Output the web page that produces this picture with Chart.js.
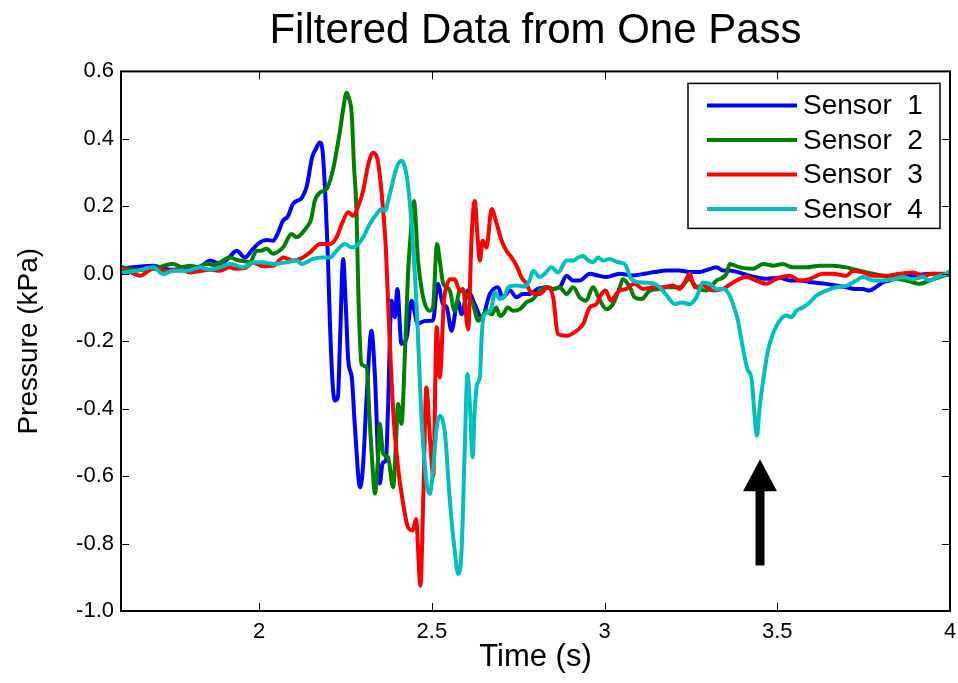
<!DOCTYPE html>
<html>
<head>
<meta charset="utf-8">
<title>Filtered Data from One Pass</title>
<script src="https://cdn.jsdelivr.net/npm/chart.js@4.4.1/dist/chart.umd.min.js"></script>
<style>
  html, body { margin: 0; padding: 0; background: #fff; }
  canvas { display: block; }
</style>
</head>
<body>
<canvas id="chart" width="958" height="683"></canvas>
<script>
// 目盛り
const xTicks = [2, 2.5, 3, 3.5, 4];
const yTicks = [0.6, 0.4, 0.2, 0.0, -0.2, -0.4, -0.6, -0.8, -1.0];

const sensorLabels = ['Sensor  1', 'Sensor  2', 'Sensor  3', 'Sensor  4'];
const sensorColors = ['#0000ff', '#008000', '#ff0000', '#00bfbf'];

// Sensor 1 (s, kPa)
const s1Time = [
  1.600, 1.641, 1.693, 1.742, 1.788, 1.829, 1.858, 1.886, 1.910, 1.935,
  1.959, 1.979, 2.002, 2.022, 2.040, 2.054, 2.069, 2.083, 2.098, 2.124,
  2.138, 2.153, 2.164, 2.176, 2.184, 2.193, 2.199, 2.205, 2.213, 2.219,
  2.228, 2.234, 2.243, 2.251, 2.258, 2.268, 2.277, 2.292, 2.300, 2.312,
  2.325, 2.335, 2.349, 2.358, 2.367, 2.373, 2.383, 2.393, 2.400, 2.412,
  2.427, 2.441, 2.459, 2.480, 2.503, 2.517, 2.532, 2.543, 2.557, 2.575,
  2.586, 2.604, 2.624, 2.644, 2.668, 2.691, 2.705, 2.726, 2.745, 2.763,
  2.783, 2.807, 2.832, 2.850, 2.870, 2.890, 2.908, 2.928, 2.957, 2.980,
  3.005, 3.044, 3.081, 3.116, 3.145, 3.179, 3.217, 3.246, 3.275, 3.298,
  3.324, 3.342, 3.362, 3.400, 3.435, 3.468, 3.507, 3.536, 3.565, 3.599,
  3.642, 3.669, 3.700, 3.724, 3.747, 3.767, 3.785, 3.805, 3.825, 3.854, 3.897, 3.950, 4.000
];
const s1Pressure = [
  0.015, 0.02, 0.024, 0.012, 0.015, 0.02, 0.039, 0.03, 0.045, 0.068,
  0.048, 0.07, 0.093, 0.10, 0.098, 0.12, 0.157, 0.17, 0.207, 0.226,
  0.26, 0.344, 0.37, 0.389, 0.36, 0.2, 0.05, -0.15, -0.33, -0.376,
  -0.365, -0.2, 0.044, -0.1, -0.258, -0.307, -0.45, -0.633, -0.58, -0.35,
  -0.169, -0.3, -0.622, -0.56, -0.554, -0.4, -0.08, -0.129, -0.045, -0.208,
  -0.19, -0.08, -0.148, -0.14, -0.139, -0.03, -0.09, -0.1, -0.169, -0.08,
  -0.12, -0.05, -0.09, -0.13, -0.06, -0.04, -0.07, -0.05, -0.07, -0.06,
  -0.06, -0.045, -0.04, -0.045, -0.04, -0.006, -0.02, -0.02, 0.0, -0.005,
  -0.01, 0.0, -0.005, 0.0, 0.005, 0.01, 0.01, 0.005, 0.005, 0.012,
  0.019, 0.01, 0.01, 0.0, -0.01, -0.015, -0.012, -0.02, -0.02, -0.025,
  -0.03, -0.035, -0.04, -0.045, -0.045, -0.05, -0.04, -0.026, -0.02, -0.01, -0.005, 0.0, -0.003
];

// Sensor 2
const s2Time = [
  1.600, 1.646, 1.684, 1.713, 1.750, 1.774, 1.800, 1.823, 1.848, 1.869,
  1.886, 1.915, 1.939, 1.954, 1.973, 1.993, 2.002, 2.022, 2.040, 2.054,
  2.069, 2.094, 2.108, 2.137, 2.150, 2.161, 2.176, 2.195, 2.213, 2.234,
  2.245, 2.253, 2.260, 2.268, 2.274, 2.282, 2.287, 2.296, 2.311, 2.320,
  2.328, 2.335, 2.344, 2.349, 2.359, 2.373, 2.388, 2.396, 2.402, 2.412,
  2.422, 2.431, 2.439, 2.448, 2.460, 2.471, 2.480, 2.494, 2.503, 2.515,
  2.523, 2.533, 2.543, 2.552, 2.566, 2.581, 2.600, 2.619, 2.634, 2.647,
  2.658, 2.673, 2.687, 2.697, 2.706, 2.720, 2.735, 2.755, 2.774, 2.793,
  2.812, 2.832, 2.851, 2.870, 2.890, 2.909, 2.928, 2.947, 2.966, 2.986,
  3.005, 3.024, 3.044, 3.053, 3.073, 3.087, 3.107, 3.131, 3.160, 3.179,
  3.217, 3.246, 3.266, 3.295, 3.324, 3.353, 3.362, 3.391, 3.430, 3.459,
  3.488, 3.516, 3.544, 3.584, 3.623, 3.660, 3.700, 3.738, 3.777, 3.825,
  3.873, 3.912, 3.941, 3.970, 4.000
];
const s2Pressure = [
  0.02, 0.01, 0.015, 0.02, 0.03, 0.02, 0.024, 0.02, 0.03, 0.025,
  0.033, 0.048, 0.04, 0.038, 0.034, 0.068, 0.068, 0.074, 0.059, 0.065,
  0.078, 0.118, 0.108, 0.137, 0.16, 0.216, 0.241, 0.251, 0.305, 0.424,
  0.5, 0.537, 0.52, 0.473, 0.33, 0.178, -0.05, -0.268, -0.277, -0.436,
  -0.57, -0.652, -0.55, -0.445, -0.534, -0.544, -0.633, -0.5, -0.386, -0.445,
  -0.238, 0.0, 0.12, 0.216, 0.038, -0.05, -0.09, -0.11, -0.1, 0.088,
  0.038, -0.03, -0.04, -0.05, -0.11, -0.05, -0.06, -0.09, -0.139, -0.125,
  -0.11, -0.12, -0.1, -0.125, -0.12, -0.1, -0.11, -0.105, -0.085, -0.075,
  -0.05, -0.04, -0.045, -0.04, -0.06, -0.04, -0.07, -0.08, -0.04, -0.078,
  -0.105, -0.09, -0.04, -0.016, -0.04, -0.07, -0.075, -0.05, -0.045, -0.04,
  -0.04, -0.016, -0.04, -0.05, -0.02, 0.0, 0.029, 0.019, 0.015, 0.029,
  0.024, 0.029, 0.019, 0.019, 0.024, 0.024, 0.019, 0.009, 0.0, -0.01,
  -0.02, -0.03, -0.02, -0.01, 0.0
];

// Sensor 3
const s3Time = [
  1.600, 1.626, 1.655, 1.693, 1.719, 1.742, 1.771, 1.800, 1.829, 1.858,
  1.886, 1.915, 1.930, 1.959, 1.983, 2.011, 2.041, 2.070, 2.099, 2.127,
  2.152, 2.176, 2.205, 2.224, 2.239, 2.258, 2.272, 2.287, 2.301, 2.316,
  2.330, 2.345, 2.359, 2.367, 2.373, 2.388, 2.402, 2.417, 2.431, 2.445,
  2.454, 2.467, 2.475, 2.484, 2.494, 2.504, 2.514, 2.523, 2.535, 2.542,
  2.552, 2.566, 2.581, 2.590, 2.605, 2.615, 2.624, 2.633, 2.639, 2.647,
  2.658, 2.673, 2.687, 2.702, 2.716, 2.731, 2.745, 2.759, 2.774, 2.783,
  2.803, 2.812, 2.836, 2.851, 2.865, 2.890, 2.919, 2.938, 2.957, 2.976,
  2.991, 3.003, 3.018, 3.034, 3.044, 3.063, 3.087, 3.111, 3.140, 3.169,
  3.198, 3.217, 3.235, 3.246, 3.261, 3.285, 3.314, 3.343, 3.372, 3.410,
  3.439, 3.468, 3.497, 3.536, 3.565, 3.594, 3.632, 3.661, 3.700, 3.719,
  3.748, 3.777, 3.816, 3.854, 3.893, 3.922, 3.951, 4.000
];
const s3Pressure = [
  0.015, 0.005, -0.006, 0.015, 0.01, 0.009, 0.012, 0.004, 0.008, 0.012,
  0.009, 0.019, 0.015, 0.017, 0.033, 0.022, 0.024, 0.048, 0.039, 0.048,
  0.068, 0.088, 0.088, 0.108, 0.147, 0.182, 0.172, 0.201, 0.246, 0.325,
  0.359, 0.325, 0.187, 0.07, -0.08, -0.406, -0.574, -0.682, -0.752, -0.761,
  -0.727, -0.925, -0.67, -0.337, -0.48, -0.6, -0.159, -0.307, -0.08, -0.04,
  -0.016, -0.016, -0.05, -0.045, -0.165, 0.108, 0.216, 0.1, 0.039, 0.098,
  0.078, 0.192, 0.15, 0.098, 0.068, 0.048, 0.024, -0.01, -0.03, -0.05,
  -0.06, -0.06, -0.04, -0.07, -0.179, -0.184, -0.169, -0.149, -0.1, -0.09,
  -0.06, -0.05, -0.08, -0.06, -0.05, -0.045, -0.03, -0.045, -0.04, -0.04,
  -0.035, -0.045, -0.02, 0.0, -0.04, -0.035, -0.05, -0.045, -0.026, -0.01,
  -0.02, -0.03, -0.015, -0.006, -0.02, -0.015, 0.0, 0.0, -0.006, 0.009,
  0.004, -0.006, -0.006, 0.0, 0.004, -0.006, 0.0, 0.0
];

// Sensor 4
const s4Time = [
  1.600, 1.646, 1.693, 1.722, 1.751, 1.790, 1.829, 1.858, 1.886, 1.915,
  1.935, 1.954, 1.983, 2.012, 2.041, 2.079, 2.108, 2.123, 2.156, 2.185,
  2.205, 2.224, 2.248, 2.268, 2.287, 2.301, 2.320, 2.340, 2.354, 2.364,
  2.378, 2.398, 2.412, 2.427, 2.441, 2.456, 2.470, 2.485, 2.494, 2.504,
  2.514, 2.523, 2.538, 2.552, 2.566, 2.576, 2.586, 2.595, 2.603, 2.610,
  2.618, 2.624, 2.631, 2.639, 2.644, 2.650, 2.663, 2.673, 2.682, 2.697,
  2.711, 2.721, 2.745, 2.769, 2.783, 2.793, 2.812, 2.827, 2.846, 2.865,
  2.890, 2.909, 2.923, 2.938, 2.947, 2.967, 2.981, 2.996, 3.015, 3.039,
  3.058, 3.078, 3.111, 3.140, 3.160, 3.184, 3.203, 3.222, 3.246, 3.266,
  3.285, 3.304, 3.324, 3.343, 3.357, 3.372, 3.386, 3.400, 3.415, 3.425,
  3.434, 3.441, 3.449, 3.459, 3.473, 3.487, 3.507, 3.526, 3.541, 3.555,
  3.574, 3.594, 3.613, 3.642, 3.671, 3.700, 3.729, 3.748, 3.777, 3.806,
  3.835, 3.864, 3.893, 3.922, 3.941, 3.960, 3.989, 4.000
];
const s4Pressure = [
  0.004, 0.009, 0.019, -0.001, 0.009, 0.009, 0.019, 0.012, 0.019, 0.029,
  0.024, 0.019, 0.034, 0.034, 0.029, 0.034, 0.039, 0.029, 0.044, 0.048,
  0.048, 0.068, 0.088, 0.078, 0.088, 0.108, 0.147, 0.177, 0.192, 0.187,
  0.236, 0.315, 0.335, 0.29, 0.15, -0.1, -0.426, -0.623, -0.653, -0.574,
  -0.455, -0.421, -0.475, -0.672, -0.821, -0.89, -0.82, -0.524, -0.297, -0.386,
  -0.544, -0.406, -0.327, -0.307, -0.189, -0.125, -0.115, -0.1, -0.055, -0.075,
  -0.065, -0.04, -0.035, -0.038, -0.02, 0.009, -0.01, 0.0, 0.019, 0.004,
  0.039, 0.039, 0.048, 0.053, 0.044, 0.034, 0.048, 0.039, 0.044, 0.034,
  0.029, -0.016, -0.026, -0.028, -0.04, -0.07, -0.09, -0.085, -0.09, -0.07,
  -0.026, -0.03, -0.045, -0.045, -0.055, -0.09, -0.139, -0.218, -0.287, -0.307,
  -0.416, -0.48, -0.396, -0.317, -0.228, -0.179, -0.139, -0.124, -0.129, -0.11,
  -0.1, -0.085, -0.065, -0.05, -0.04, -0.036, -0.02, -0.01, -0.02, -0.02,
  -0.016, -0.01, -0.016, -0.01, -0.02, -0.01, 0.0, 0.009
];

// 矢印 (Sensor 4 の谷を指す)
const arrowTime = 3.45;
const arrowTip = -0.55;
const arrowHeadBase = -0.645;
const arrowTail = -0.865;

const FONT = "'Liberation Sans', Arial, Helvetica, sans-serif";
Chart.defaults.font.family = FONT;
Chart.defaults.color = '#000';

function toPoints(times, values) {
  return times.map((t, i) => ({ x: t, y: values[i] }));
}

const seriesTimes = [s1Time, s2Time, s3Time, s4Time];
const seriesValues = [s1Pressure, s2Pressure, s3Pressure, s4Pressure];

const datasets = sensorLabels.map((label, i) => ({
  label: label,
  data: toPoints(seriesTimes[i], seriesValues[i]),
  borderColor: sensorColors[i],
  backgroundColor: sensorColors[i],
  borderWidth: 4,
  pointRadius: 0,
  cubicInterpolationMode: 'monotone',
  borderJoinStyle: 'round',
  borderCapStyle: 'round',
  // Sensor 4 を一番上に描く
  order: sensorLabels.length - i
}));

// 枠・内向き目盛り・矢印・凡例
const matlabFrame = {
  id: 'matlabFrame',
  afterDatasetsDraw(chart) {
    const { ctx, chartArea: a, scales: { x, y } } = chart;
    ctx.save();

    // 内向きの目盛り (4辺)
    ctx.strokeStyle = '#000';
    ctx.lineWidth = 1;
    ctx.beginPath();
    xTicks.forEach(v => {
      const px = Math.round(x.getPixelForValue(v)) + 0.5;
      ctx.moveTo(px, a.bottom); ctx.lineTo(px, a.bottom - 8);
      ctx.moveTo(px, a.top); ctx.lineTo(px, a.top + 8);
    });
    yTicks.forEach(v => {
      const py = Math.round(y.getPixelForValue(v)) + 0.5;
      ctx.moveTo(a.left, py); ctx.lineTo(a.left + 8, py);
      ctx.moveTo(a.right, py); ctx.lineTo(a.right - 8, py);
    });
    ctx.stroke();

    ctx.lineWidth = 2;
    ctx.strokeRect(a.left, a.top, a.right - a.left, a.bottom - a.top);

    // 矢印
    const ax = x.getPixelForValue(arrowTime);
    const yTip = y.getPixelForValue(arrowTip);
    const yBase = y.getPixelForValue(arrowHeadBase);
    const yTail = y.getPixelForValue(arrowTail);
    ctx.fillStyle = '#000';
    ctx.fillRect(ax - 4.5, yBase - 1, 9, yTail - yBase + 1);
    ctx.beginPath();
    ctx.moveTo(ax, yTip);
    ctx.lineTo(ax + 17, yBase);
    ctx.lineTo(ax - 17, yBase);
    ctx.closePath();
    ctx.fill();

    // 凡例
    const boxW = 252, boxH = 145;
    const bx = a.right - 10 - boxW;
    const by = a.top + 12;
    ctx.fillStyle = '#fff';
    ctx.fillRect(bx, by, boxW, boxH);
    ctx.lineWidth = 1.5;
    ctx.strokeStyle = '#000';
    ctx.strokeRect(bx, by, boxW, boxH);
    ctx.font = '28px ' + FONT;
    ctx.textBaseline = 'middle';
    ctx.textAlign = 'left';
    chart.data.datasets.forEach((ds, i) => {
      const ry = by + 22 + i * 34.5;
      ctx.strokeStyle = ds.borderColor;
      ctx.lineWidth = 4;
      ctx.beginPath();
      ctx.moveTo(bx + 19, ry);
      ctx.lineTo(bx + 109, ry);
      ctx.stroke();
      ctx.fillStyle = '#000';
      ctx.fillText(ds.label, bx + 115, ry + 1);
    });

    ctx.restore();
  }
};

new Chart(document.getElementById('chart'), {
  type: 'line',
  data: { datasets: datasets },
  plugins: [matlabFrame],
  options: {
    responsive: false,
    animation: false,
    layout: { padding: { left: 0, right: 8, top: 0, bottom: 0 } },
    plugins: {
      legend: { display: false },
      tooltip: { enabled: false },
      title: {
        display: true,
        fullSize: false,
        text: 'Filtered Data from One Pass',
        color: '#000',
        font: { size: 42, weight: 'normal' },
        padding: { top: 6, bottom: 15 }
      }
    },
    scales: {
      x: {
        type: 'linear',
        position: 'bottom',
        min: 1.6,
        max: 4,
        grid: { display: false, drawTicks: false },
        border: { display: false },
        afterBuildTicks: s => { s.ticks = xTicks.map(v => ({ value: v })); },
        afterFit: s => { s.height = 72; s.paddingRight = 6; },
        ticks: {
          color: '#000',
          font: { size: 22 },
          padding: 8,
          maxRotation: 0,
          callback: v => String(v)
        },
        title: {
          display: true,
          text: 'Time (s)',
          color: '#000',
          font: { size: 31 },
          padding: { top: 0, bottom: 7 }
        }
      },
      y: {
        type: 'linear',
        min: -1,
        max: 0.6,
        grid: { display: false, drawTicks: false },
        border: { display: false },
        afterBuildTicks: s => { s.ticks = yTicks.map(v => ({ value: v })); },
        afterFit: s => { s.width = 121; },
        ticks: {
          color: '#000',
          font: { size: 22 },
          padding: 7,
          callback: v => Number(v).toFixed(1)
        },
        title: {
          display: true,
          text: 'Pressure (kPa)',
          color: '#000',
          font: { size: 28 },
          padding: { top: 12, bottom: 0 }
        }
      }
    }
  }
});
</script>
</body>
</html>
